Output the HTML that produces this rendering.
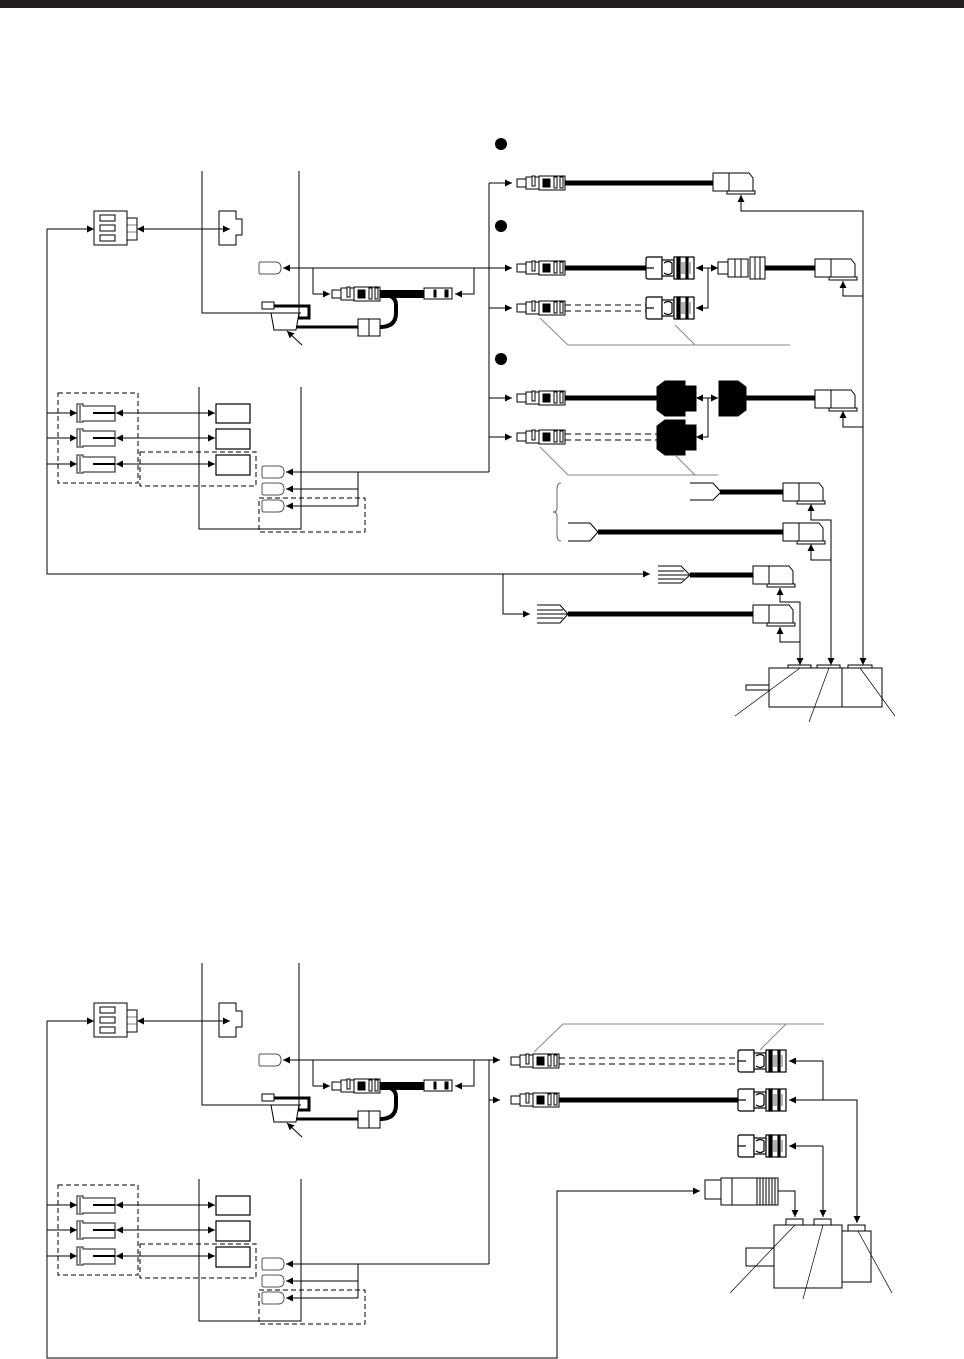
<!DOCTYPE html>
<html><head><meta charset="utf-8"><style>
html,body{margin:0;padding:0;background:#fff;}
svg{display:block;}
</style></head><body>
<svg width="964" height="1359" viewBox="0 0 964 1359" xmlns="http://www.w3.org/2000/svg">
<defs>
<marker id="a" viewBox="0 0 10 10" refX="10" refY="5" markerWidth="7" markerHeight="7" orient="auto-start-reverse"><path d="M0,0 L10,5 L0,10 z" fill="#000"/></marker>
<g id="plug" fill="#fff" stroke="#000" stroke-width="1">
 <rect x="0" y="-4" width="9" height="8"/>
 <rect x="9" y="-6" width="13" height="12"/>
 <rect x="15" y="-7" width="3" height="10"/>
 <rect x="22" y="-7" width="26" height="14"/>
 <rect x="26" y="-4" width="7" height="8" fill="#000"/>
 <rect x="37" y="-6" width="3" height="11"/>
 <rect x="43" y="-6" width="3" height="11"/>
</g>
<g id="round" fill="#fff" stroke="#000" stroke-width="1.2">
 <path d="M2,-11 H16 V11 H2 Q0,11 0,9 V-9 Q0,-11 2,-11 z"/>
 <path d="M0,0 H8"/>
 <rect x="16" y="-8" width="12" height="16"/>
 <path d="M18,-5 Q22,-8 26,-5 V5 Q22,8 18,5"/>
 <rect x="28" y="-11" width="20" height="22"/>
 <rect x="31" y="-11" width="3" height="22" fill="#000"/>
 <rect x="40" y="-10" width="2" height="20" fill="#000"/>
 <path d="M36,-6 V6 M38,-6 V6 M44,-6 V6" stroke-width="0.6"/>
</g>
<g id="box" fill="#fff" stroke="#000" stroke-width="1">
 <path d="M0,-9 H36 L40,-4 V9 H0 z"/>
 <path d="M16,-9 V9"/>
 <rect x="14" y="9" width="28" height="3"/>
</g>
<g id="tag" fill="#fff" stroke="#555" stroke-width="1">
 <path d="M2,-6 H16 Q22,-6 22,0 Q22,6 16,6 H2 Q0,6 0,4 V-4 Q0,-6 2,-6 z"/>
</g>
<g id="sock" fill="#fff" stroke="#444" stroke-width="1.3">
 <path d="M0,-9 H6 V-7 H38 V8 H6 V9 H0 z"/>
 <path d="M3,-8 V8"/>
</g>
</defs>

<rect x="0" y="0" width="964" height="8" fill="#231f20"/>

<g id="left" fill="none" stroke="#000" stroke-width="1">
 <path d="M202,171 V313 H301 M299,171 V317"/>
 <rect x="94" y="211" width="33" height="34" fill="#fff"/>
 <rect x="100" y="215" width="15" height="6"/><rect x="100" y="225" width="15" height="6"/><rect x="100" y="235" width="15" height="6"/>
 <rect x="127" y="218" width="10" height="22" fill="#fff"/>
 <path d="M127,225 H137 M127,232 H137" stroke-width="0.6"/>
 <path d="M219,211 H236 V219 H242 V235 H236 V245 H219 z" fill="#fff"/>
 <path d="M47,229 H94" marker-end="url(#a)"/>
 <path d="M137,229 H230" marker-start="url(#a)" marker-end="url(#a)"/>
 <use href="#tag" x="259" y="268"/>
 <path d="M283,268 H489" marker-start="url(#a)"/>
 <path d="M313,268 V294 H330" marker-end="url(#a)"/>
 <path d="M474,268 V294 H455" marker-end="url(#a)"/>
 <use href="#plug" x="332" y="294"/>
 <path d="M380,292 H424 M380,296 H424" stroke-width="4"/>
 <rect x="424" y="288" width="28" height="11" fill="#fff"/>
 <rect x="434" y="290" width="2" height="7" fill="#000"/>
 <rect x="445" y="290" width="3" height="7" fill="#000"/>
 <rect x="262" y="302" width="12" height="7" fill="#fff"/>
 <path d="M274,306 H309 V318 H298" stroke-width="3"/>
 <path d="M271,313 H299 L296,330 H274 z" fill="#fff"/>
 <path d="M297,327 H358" stroke-width="3"/>
 <rect x="358" y="319" width="22" height="17" fill="#fff"/><path d="M369,319 V336"/>
 <path d="M380,327 Q396,327 396,313 V305 Q396,295 382,294" stroke-width="4"/>
 <path d="M302,345 L287,331" marker-end="url(#a)"/>
 <path d="M199,387 V529 H301 V387"/>
 <rect x="58" y="393" width="80" height="90" stroke-dasharray="5,3"/>
 <rect x="140" y="452" width="116" height="34" stroke-dasharray="5,3"/>
 <rect x="259" y="498" width="106" height="34" stroke-dasharray="5,3"/>
 <use href="#sock" x="77" y="413"/><use href="#sock" x="77" y="438"/><use href="#sock" x="77" y="464"/>
 <path d="M93,413 H115 M93,438 H115 M93,464 H115" stroke-width="2"/>
 <rect x="216" y="404" width="34" height="19" fill="#fff" stroke-width="1.2"/>
 <rect x="216" y="429" width="34" height="20" fill="#fff" stroke-width="1.2"/>
 <rect x="216" y="455" width="34" height="20" fill="#fff" stroke-width="1.2"/>
 <path d="M47,413 H77" marker-end="url(#a)"/>
 <path d="M47,438 H77" marker-end="url(#a)"/>
 <path d="M47,464 H77" marker-end="url(#a)"/>
 <path d="M116,413 H215" marker-start="url(#a)" marker-end="url(#a)"/>
 <path d="M116,438 H215" marker-start="url(#a)" marker-end="url(#a)"/>
 <path d="M116,464 H215" marker-start="url(#a)" marker-end="url(#a)"/>
 <use href="#tag" x="262" y="472"/><use href="#tag" x="262" y="489"/><use href="#tag" x="262" y="506"/>
 <path d="M286,472 H489" marker-start="url(#a)"/>
 <path d="M358,472 V506"/>
 <path d="M358,489 H286" marker-end="url(#a)"/>
 <path d="M358,506 H286" marker-end="url(#a)"/>
</g>

<use href="#left" x="0" y="792"/>

<g fill="none" stroke="#000" stroke-width="1">
 <path d="M47,229 V574 H650" marker-end="url(#a)"/>
 <path d="M489,183 V472"/>
 <path d="M489,183 H512" marker-end="url(#a)"/>
 <path d="M489,308 H512" marker-end="url(#a)"/>
 <path d="M489,398 H512" marker-end="url(#a)"/>
 <path d="M489,437 H512" marker-end="url(#a)"/>
 <path d="M489,268 H512" marker-end="url(#a)"/>
 <circle cx="501" cy="144" r="6" fill="#000" stroke="none"/>
 <circle cx="501" cy="226" r="6" fill="#000" stroke="none"/>
 <circle cx="501" cy="359" r="6" fill="#000" stroke="none"/>
 <use href="#plug" x="517" y="183"/>
 <path d="M565,183 H713" stroke-width="5"/>
 <use href="#box" x="713" y="182"/>
 <path d="M863,665 V211 H741 V195" marker-end="url(#a)"/>
 <use href="#plug" x="517" y="268"/>
 <path d="M565,268 H646" stroke-width="5"/>
 <use href="#round" x="646" y="268"/>
 <path d="M708,268 H696" marker-end="url(#a)"/>
 <path d="M708,268 V308 H696" marker-end="url(#a)"/>
 <path d="M708,268 H718" marker-end="url(#a)"/>
 <g fill="#fff" stroke="#000"><rect x="718" y="262" width="10" height="12"/><rect x="728" y="259" width="20" height="18"/><rect x="750" y="257" width="15" height="22"/><path d="M735,259 V277 M741,259 V277 M755,257 V279 M760,257 V279"/></g>
 <path d="M765,268 H815" stroke-width="5"/>
 <use href="#box" x="815" y="268"/>
 <path d="M863,296 H843 V281" marker-end="url(#a)"/>
 <use href="#plug" x="517" y="308"/>
 <path d="M565,305 H646 M565,311 H646" stroke-dasharray="6,4"/>
 <use href="#round" x="646" y="308"/>
 <path d="M540,318 L568,345 H790 M675,325 L695,345" stroke="#888"/>
 <use href="#plug" x="517" y="398"/>
 <path d="M565,398 H657" stroke-width="5"/>
 <path d="M665,381 H685 V386 H696 V411 H685 V416 H665 L657,410 V387 z" fill="#000"/>
 <path d="M708,398 H696" marker-end="url(#a)"/>
 <path d="M708,398 V437 H696" marker-end="url(#a)"/>
 <path d="M708,398 H718" marker-end="url(#a)"/>
 <path d="M719,381 H738 L746,387 V410 L738,416 H719 z" fill="#000"/>
 <path d="M745,398 H815" stroke-width="5"/>
 <use href="#box" x="815" y="399"/>
 <path d="M863,427 H843 V411" marker-end="url(#a)"/>
 <use href="#plug" x="517" y="437"/>
 <path d="M565,434 H657 M565,440 H657" stroke-dasharray="6,4"/>
 <path d="M665,420 H685 V425 H696 V450 H685 V455 H665 L657,449 V426 z" fill="#000"/>
 <path d="M540,447 L568,475 H718 M675,455 L695,475" stroke="#888"/>
 <path d="M561,483 Q557,483 557,490 V508 Q557,512 553,512 Q557,512 557,516 V534 Q557,541 561,541" stroke="#666"/>
 <path d="M690,483 H713 L721,492 L713,500 H690"/>
 <path d="M720,492 H783" stroke-width="5"/>
 <use href="#box" x="783" y="492"/>
 <path d="M831,665 V520 H811 V504" marker-end="url(#a)"/>
 <path d="M568,523 H590 L598,532 L590,541 H568"/>
 <path d="M598,532 H783" stroke-width="5"/>
 <use href="#box" x="783" y="532"/>
 <path d="M831,560 H811 V544" marker-end="url(#a)"/>
 <path d="M658,566 H681 L690,575 L681,583 H658 M658,571 H684 M658,575 H690 M658,579 H684" />
 <path d="M690,575 H753" stroke-width="5"/>
 <use href="#box" x="753" y="575"/>
 <path d="M800,665 V602 H780 V588" marker-end="url(#a)"/>
 <path d="M503,574 V614 H530" marker-end="url(#a)"/>
 <path d="M537,605 H560 L568,614 L560,623 H537 M537,610 H563 M537,614 H568 M537,618 H563"/>
 <path d="M568,614 H753" stroke-width="5"/>
 <use href="#box" x="753" y="614"/>
 <path d="M800,642 H780 V627" marker-end="url(#a)"/>
 <path d="M800,650 V665" marker-end="url(#a)"/>
 <path d="M831,650 V665" marker-end="url(#a)"/>
 <path d="M863,650 V665" marker-end="url(#a)"/>
 <rect x="769" y="668" width="113" height="39" fill="#fff"/>
 <path d="M842,668 V707"/>
 <rect x="788" y="665" width="23" height="3" fill="#fff"/>
 <rect x="817" y="665" width="23" height="3" fill="#fff"/>
 <rect x="848" y="665" width="24" height="3" fill="#fff"/>
 <rect x="746" y="685" width="23" height="5" fill="#fff"/>
 <path d="M800,668 L735,716 M829,668 L809,722 M860,668 L895,716" stroke-width="0.7"/>

 <path d="M489,1060 V1264"/>
 <path d="M489,1060 H500" marker-end="url(#a)"/>
 <path d="M489,1100 H500" marker-end="url(#a)"/>
 <path d="M563,1024 H824 M563,1024 L534,1052 M786,1024 L760,1050" stroke="#888"/>
 <use href="#plug" x="511" y="1061"/>
 <path d="M559,1058 H738 M559,1064 H738" stroke-dasharray="6,4"/>
 <use href="#round" x="738" y="1061"/>
 <use href="#plug" x="511" y="1100"/>
 <path d="M559,1100 H738" stroke-width="5"/>
 <use href="#round" x="738" y="1100"/>
 <use href="#round" x="738" y="1146"/>
 <path d="M823,1100 V1061 H789" marker-end="url(#a)"/>
 <path d="M823,1100 H789" marker-end="url(#a)"/>
 <path d="M823,1100 H857 V1223" marker-end="url(#a)"/>
 <path d="M823,1146 H789" marker-end="url(#a)"/>
 <path d="M823,1146 V1217" marker-end="url(#a)"/>
 <path d="M47,1021 V1358 H557 V1191 H700" marker-end="url(#a)"/>
 <g fill="#fff" stroke="#000"><rect x="705" y="1180" width="20" height="19"/><rect x="721" y="1178" width="11" height="27"/><rect x="732" y="1178" width="25" height="27"/><rect x="757" y="1178" width="21" height="27"/><path d="M760,1178 V1205 M763,1178 V1205 M766,1178 V1205 M769,1178 V1205 M772,1178 V1205 M775,1178 V1205"/></g>
 <path d="M778,1191 H795 V1217" marker-end="url(#a)"/>
 <rect x="774" y="1225" width="68" height="63" fill="#fff"/>
 <rect x="842" y="1231" width="29" height="51" fill="#fff"/>
 <rect x="786" y="1219" width="17" height="6" fill="#fff"/>
 <rect x="814" y="1219" width="17" height="6" fill="#fff"/>
 <rect x="848" y="1225" width="17" height="6" fill="#fff"/>
 <rect x="746" y="1248" width="28" height="18" fill="#fff"/>
 <path d="M795,1225 L730,1293 M823,1225 L803,1299 M858,1231 L892,1293" stroke-width="0.7"/>
</g>
</svg>
</body></html>
